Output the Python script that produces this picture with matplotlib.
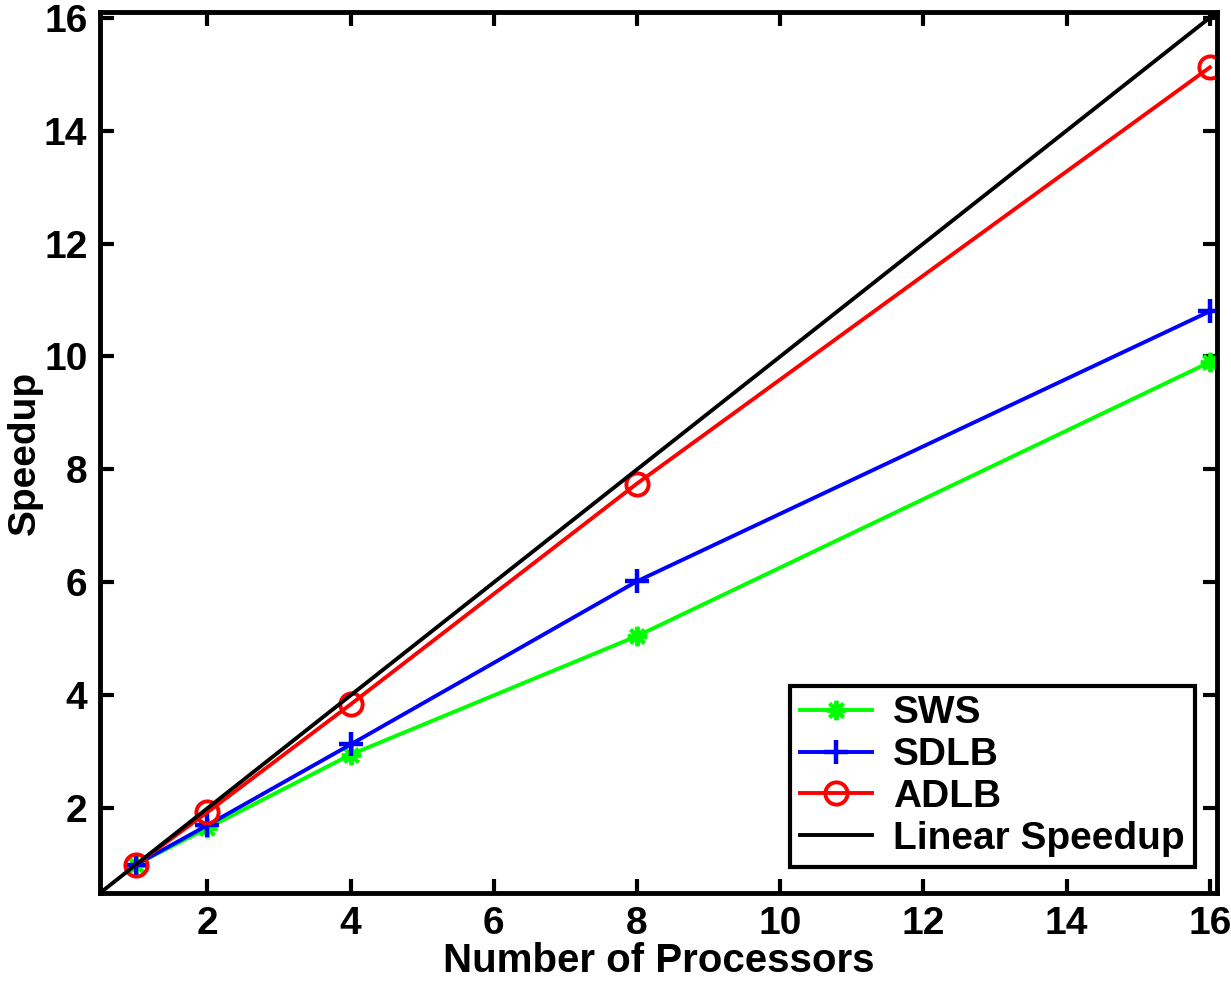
import matplotlib
matplotlib.use('Agg')
import matplotlib.pyplot as plt

plt.rcParams['font.family'] = ['Liberation Sans', 'DejaVu Sans']
plt.rcParams['font.weight'] = 'bold'

procs = [1, 2, 4, 8, 16]
sws = [1.0, 1.65, 2.95, 5.05, 9.9]
sdlb = [1.0, 1.7, 3.13, 6.02, 10.8]
adlb = [1.0, 1.93, 3.84, 7.75, 15.12]
linear = [0, 1, 2, 4, 8, 16, 17]

fig = plt.figure(figsize=(12.31, 9.82), dpi=100)
ax = fig.add_axes([100/1231, 1 - 893/982, (1217-100)/1231, (893-12)/982])

ax.plot(procs, sws, color='#00ff00', lw=2.8, marker=(8, 2, 0), ms=14, mew=2.8, label='SWS')
ax.plot(procs, sdlb, color='#0000ff', lw=2.8, marker='+', ms=17, mew=3.2, label='SDLB')
ax.plot(procs, adlb, color='#ff0000', lw=2.8, marker='o', ms=16, mew=2.8, mfc='none', label='ADLB')
ax.plot(linear, linear, color='black', lw=2.8, label='Linear Speedup')

ax.set_xlim(0.5, 16.1)
ax.set_ylim(0.5, 16.1)
ax.set_xticks([2, 4, 6, 8, 10, 12, 14, 16])
ax.set_yticks([2, 4, 6, 8, 10, 12, 14, 16])
ax.tick_params(direction='in', length=10, width=3, labelsize=28, top=True, right=True, pad=9)
for lab in ax.get_xticklabels() + ax.get_yticklabels():
    lab.set_fontweight('bold')
for s in ax.spines.values():
    s.set_linewidth(3.5)

ax.set_xlabel('Number of Processors', fontsize=29, fontweight='bold', labelpad=0)
ax.set_ylabel('Speedup', fontsize=28, fontweight='bold', labelpad=1)

leg = ax.legend(loc='lower right', bbox_to_anchor=(0.98, 0.03), fontsize=28, frameon=True,
                fancybox=False, edgecolor='black', framealpha=1, handlelength=1.85,
                handletextpad=0.55, borderpad=0.25, labelspacing=0.15, borderaxespad=0)
leg.get_frame().set_linewidth(3)
for t in leg.get_texts():
    t.set_fontweight('bold')

fig.savefig('out.png', dpi=100)
